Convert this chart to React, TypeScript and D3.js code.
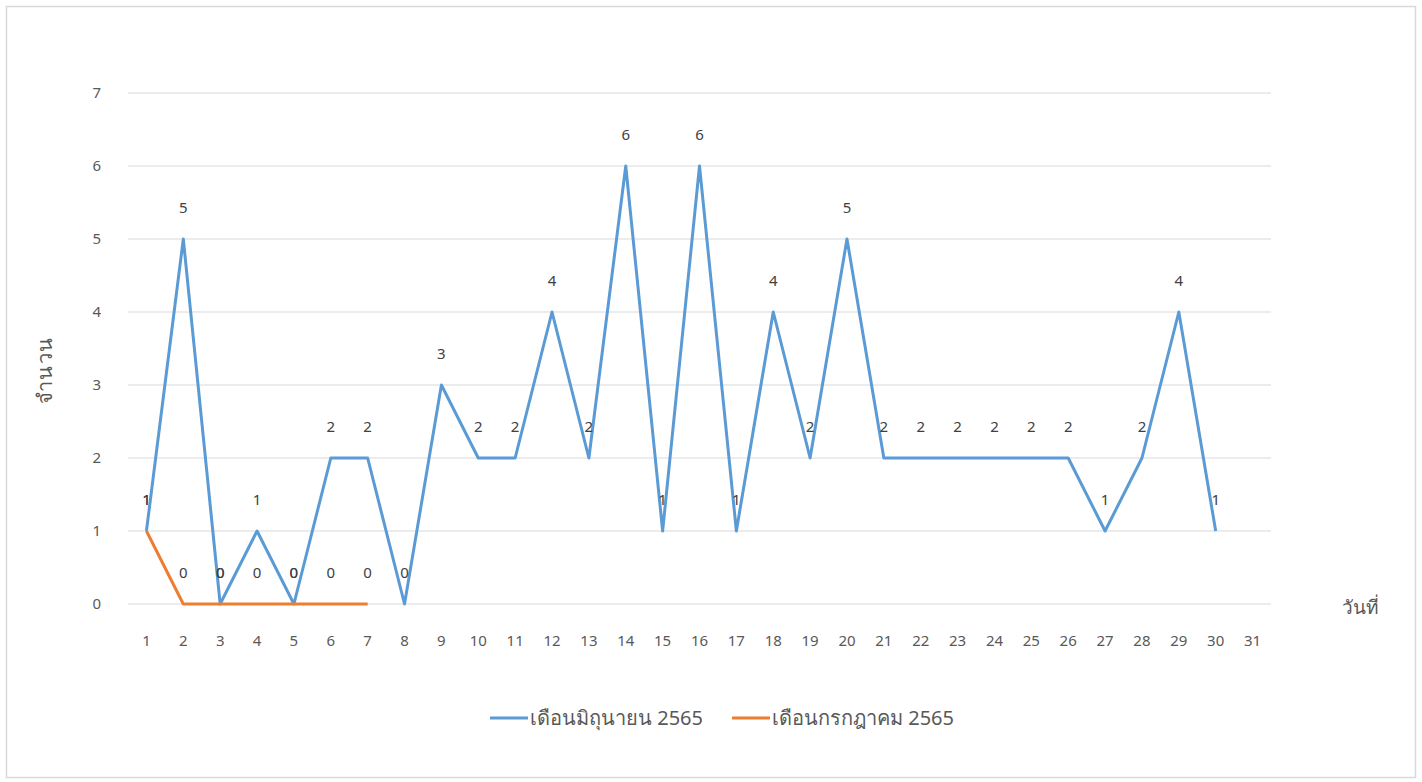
import { line, scaleBand, scaleLinear } from "d3";

const WIDTH = 1422;
const HEIGHT = 782;
const PLOT = { left: 128, right: 1271, top: 93, bottom: 604 };

const days = Array.from({ length: 31 }, (_, i) => String(i + 1));
const yTicks = [0, 1, 2, 3, 4, 5, 6, 7];

const juneValues = [1, 5, 0, 1, 0, 2, 2, 0, 3, 2, 2, 4, 2, 6, 1, 6, 1, 4, 2, 5, 2, 2, 2, 2, 2, 2, 1, 2, 4, 1];
const julyValues = [1, 0, 0, 0, 0, 0, 0];

const seriesNames = ["เดือนมิถุนายน 2565", "เดือนกรกฎาคม 2565"];
const seriesColors = ["#5B9BD5", "#ED7D31"];
const yTitle = "จำนวน";
const xTitle = "วันที่";

const FONT = "'Noto Sans', 'DejaVu Sans', sans-serif";

export default function App() {
  const x = scaleBand().domain(days).range([PLOT.left, PLOT.right]);
  const y = scaleLinear().domain([0, 7]).range([PLOT.bottom, PLOT.top]);
  const cx = (i: number) => (x(days[i]) ?? 0) + x.bandwidth() / 2;

  const pathFor = (values: number[]) =>
    line<number>()
      .x((_, i) => cx(i))
      .y((v) => y(v))(values) ?? "";

  const series = [juneValues, julyValues];

  return (
    <svg
      width={WIDTH}
      height={HEIGHT}
      viewBox={`0 0 ${WIDTH} ${HEIGHT}`}
      style={{ position: "absolute", left: 0, top: 0, background: "#fff" }}
      fontFamily={FONT}
    >
      <rect x={6.5} y={6.5} width={1409} height={771} fill="#fff" stroke="#d9d9d9" strokeWidth={1.5} />

      {yTicks.map((t) => (
        <g key={t}>
          <line x1={PLOT.left} x2={PLOT.right} y1={y(t)} y2={y(t)} stroke="#d9d9d9" strokeWidth={1.2} />
          <text x={101} y={y(t)} dy="0.35em" textAnchor="end" fontSize={15} fill="#595959">
            {t}
          </text>
        </g>
      ))}

      {days.map((d, i) => (
        <text key={d} x={cx(i)} y={646} textAnchor="middle" fontSize={15} fill="#595959">
          {d}
        </text>
      ))}

      <text
        transform={`translate(52,370) rotate(-90)`}
        textAnchor="middle"
        fontSize={20}
        letterSpacing={1.5}
        fill="#595959"
      >
        {yTitle}
      </text>
      <text x={1360} y={614} textAnchor="middle" fontSize={19} fill="#595959">
        {xTitle}
      </text>

      {series.map((vals, s) => (
        <path
          key={s}
          d={pathFor(vals)}
          fill="none"
          stroke={seriesColors[s]}
          strokeWidth={3}
          strokeLinejoin="round"
        />
      ))}

      {series.map((vals, s) =>
        vals.map((v, i) => (
          <text
            key={`${s}-${i}`}
            x={cx(i)}
            y={y(v) - 26}
            textAnchor="middle"
            fontSize={15}
            fill="#404040"
          >
            {v}
          </text>
        ))
      )}

      <g transform="translate(490,718)">
        <line x1={0} x2={38} y1={0} y2={0} stroke={seriesColors[0]} strokeWidth={3} />
        <text x={40} y={0} dy="0.35em" fontSize={20} fill="#595959">
          {seriesNames[0]}
        </text>
      </g>
      <g transform="translate(732,718)">
        <line x1={0} x2={38} y1={0} y2={0} stroke={seriesColors[1]} strokeWidth={3} />
        <text x={40} y={0} dy="0.35em" fontSize={20} fill="#595959">
          {seriesNames[1]}
        </text>
      </g>
    </svg>
  );
}
